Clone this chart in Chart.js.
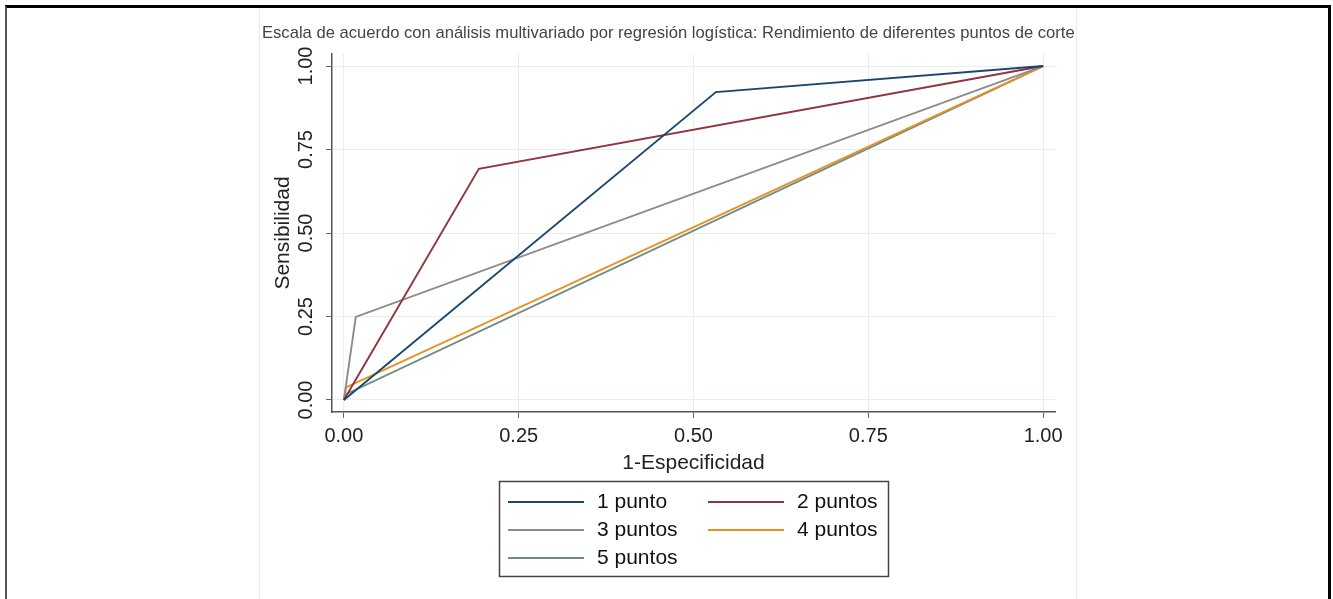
<!DOCTYPE html>
<html>
<head>
<meta charset="utf-8">
<script src="https://cdn.jsdelivr.net/npm/chart.js@4.4.1/dist/chart.umd.min.js"></script>
<style>
  html, body { margin: 0; padding: 0; background: #fff; }
  body { width: 1333px; height: 599px; position: relative; overflow: hidden; }
  #frame {
    position: absolute; left: 5px; top: 5px; width: 1321px; height: 600px;
    border-top: 3px solid #000; border-left: 2px solid #555; border-right: 3px solid #000;
  }
  #panel {
    position: absolute; left: 259px; top: 9px; width: 816px; height: 600px;
    border-left: 1px solid #ececec; border-right: 1px solid #ececec;
  }
  #wrap { position: absolute; left: 0; top: 0; width: 1333px; height: 599px; }
</style>
</head>
<body>
<div id="frame"></div>
<div id="panel"></div>
<div id="wrap"><canvas id="roc"></canvas></div>
<script>
// puntos de corte: (1-especificidad, sensibilidad)
var chartTitle = 'Escala de acuerdo con análisis multivariado por regresión logística: Rendimiento de diferentes puntos de corte';
var seriesNames = ['1 punto', '2 puntos', '3 puntos', '4 puntos', '5 puntos'];
var seriesColors = ['#1a476f', '#90353b', '#8c8c8c', '#ea9020', '#6e8e84'];
var fpr1 = [0, 0.532, 1];
var sens1 = [0, 0.922, 1];
var fpr2 = [0, 0.193, 1];
var sens2 = [0, 0.692, 1];
var fpr3 = [0, 0.017, 1];
var sens3 = [0, 0.249, 1];
var fpr4 = [0, 0.003, 1];
var sens4 = [0, 0.038, 1];
var fpr5 = [0, 0.004, 1];
var sens5 = [0, 0.018, 1];
var tickValues = [0, 0.25, 0.5, 0.75, 1];

var fprs = [fpr1, fpr2, fpr3, fpr4, fpr5];
var senss = [sens1, sens2, sens3, sens4, sens5];

var datasets = seriesNames.map(function(name, i) {
    return {
        label: name,
        data: fprs[i].map(function(x, j) { return {x: x, y: senss[i][j]}; }),
        borderColor: seriesColors[i],
        backgroundColor: seriesColors[i],
        borderWidth: 1.9,
        pointRadius: 0,
        showLine: true,
        tension: 0
    };
});

var fontFamily = "'Liberation Sans', Arial, sans-serif";

function setTicks(scale) {
    scale.ticks = tickValues.map(function(v) { return {value: v}; });
}

// titulo ancho (mas largo que el area del grafico) y leyenda en recuadro de dos columnas
var boxLegend = {
    id: 'boxLegend',
    afterDraw: function(chart) {
        var ctx = chart.ctx;
        ctx.save();
        ctx.font = '16.6px ' + fontFamily;
        ctx.fillStyle = '#444';
        ctx.textBaseline = 'middle';
        ctx.fillText(chartTitle, 262, 33, 813);

        ctx.strokeStyle = '#444';
        ctx.lineWidth = 1.5;
        ctx.strokeRect(499.5, 481.5, 389, 95);
        ctx.font = '21px ' + fontFamily;
        ctx.fillStyle = '#111';
        var cols = [508, 708];
        var rows = [502, 530, 558];
        chart.data.datasets.forEach(function(ds, i) {
            var cx = cols[i % 2], cy = rows[Math.floor(i / 2)];
            ctx.strokeStyle = ds.borderColor;
            ctx.lineWidth = 2;
            ctx.beginPath();
            ctx.moveTo(cx, cy);
            ctx.lineTo(cx + 76, cy);
            ctx.stroke();
            ctx.fillText(ds.label, cx + 89, cy);
        });
        ctx.restore();
    }
};

new Chart(document.getElementById('roc'), {
    type: 'scatter',
    data: { datasets: datasets },
    plugins: [boxLegend],
    options: {
        responsive: true,
        maintainAspectRatio: false,
        animation: false,
        layout: { padding: { left: 262, right: 278, top: 54, bottom: 123.4 } },
        plugins: {
            legend: { display: false },
            tooltip: { enabled: false },
            title: { display: false }
        },
        scales: {
            x: {
                type: 'linear',
                min: -0.017,
                max: 1.017,
                afterBuildTicks: setTicks,
                afterFit: function(s) { s.height = 63.6; },
                grid: { color: '#e6eef0', tickColor: '#666', tickLength: 6, lineWidth: 1 },
                border: { color: '#555', width: 1.5 },
                ticks: {
                    autoSkip: false,
                    maxRotation: 0,
                    padding: 6,
                    color: '#222',
                    font: { family: fontFamily, size: 20 },
                    callback: function(v) { return v.toFixed(2); }
                },
                title: {
                    display: true,
                    text: '1-Especificidad',
                    color: '#222',
                    font: { family: fontFamily, size: 21 },
                    padding: { top: 0, bottom: 0 }
                }
            },
            y: {
                type: 'linear',
                min: -0.036,
                max: 1.036,
                afterBuildTicks: setTicks,
                afterFit: function(s) { s.width = 70; },
                grid: { color: '#e6eef0', tickColor: '#666', tickLength: 6, lineWidth: 1 },
                border: { color: '#555', width: 1.5 },
                ticks: {
                    autoSkip: false,
                    minRotation: 90,
                    maxRotation: 90,
                    crossAlign: 'center',
                    padding: 0,
                    color: '#222',
                    font: { family: fontFamily, size: 20 },
                    callback: function(v) { return v.toFixed(2); }
                },
                title: {
                    display: true,
                    text: 'Sensibilidad',
                    color: '#222',
                    font: { family: fontFamily, size: 21 },
                    padding: { top: 8.4, bottom: 0 }
                }
            }
        }
    }
});
</script>
</body>
</html>
